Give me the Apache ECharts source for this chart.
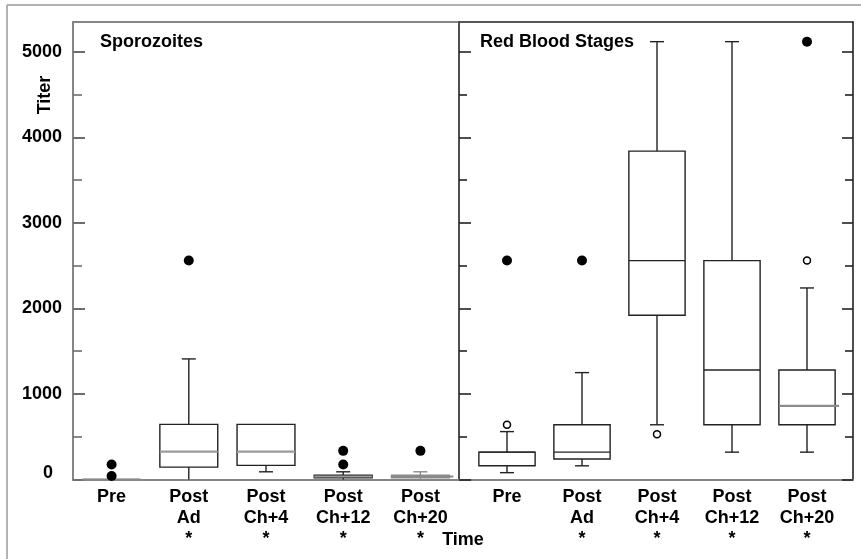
<!DOCTYPE html>
<html>
<head>
<meta charset="utf-8">
<title>Titer by time</title>
<script src="https://cdn.jsdelivr.net/npm/echarts@6/dist/echarts.min.js"></script>
<style>
  html, body { margin: 0; padding: 0; background: #fff; }
  #chart { width: 861px; height: 559px; }
</style>
</head>
<body>
<div id="chart"></div>
<script>
var categories = ['Pre', 'Post\nAd\n*', 'Post\nCh+4\n*', 'Post\nCh+12\n*', 'Post\nCh+20\n*'];

// each box: [min, Q1, median, Q3, max]
var sporozoiteBoxes = [
  [0, 0, 0, 0, 0],
  [0, 145, 325, 645, 1410],
  [90, 165, 325, 645, 645],
  [0, 20, 35, 50, 90],
  [0, 20, 35, 50, 90]
];
// [category index, titer]
var sporozoiteOutliers = [[0, 175], [0, 40], [1, 2560], [3, 335], [3, 175], [4, 335]];

var bloodBoxes = [
  [80, 160, 320, 320, 560],
  [160, 240, 320, 640, 1250],
  [640, 1920, 2560, 3840, 5120],
  [320, 640, 1280, 2560, 5120],
  [320, 640, 860, 1280, 2240]
];
var bloodOutliers = [[0, 2560], [1, 2560], [4, 5120]];
var bloodOpenOutliers = [[0, 640], [2, 530], [4, 2560]];

var yTicks = [0, 1000, 2000, 3000, 4000, 5000];
var yMinorTicks = [500, 1500, 2500, 3500, 4500];
var yMax = 5350;

// colours per box (left panel has grey boxes / medians)
var sporoBoxColor = ['#8a8a8a', '#222', '#222', '#222', '#8a8a8a'];
var sporoMedianColor = ['#8a8a8a', '#9a9a9a', '#9a9a9a', '#9a9a9a', '#8a8a8a'];
var bloodBoxColor = ['#222', '#222', '#222', '#222', '#222'];
var bloodMedianColor = ['#222', '#222', '#222', '#222', '#8c8c8c'];

var FONT = '"Liberation Sans", Arial, Helvetica, sans-serif';
var FS = 18;
var GREY = '#858585';
var DARK = '#222';

function boxRenderer(boxColor, medianColor) {
  return function (params, api) {
    var i = api.value(0);
    var band = api.size([1, 0])[0];
    var hw = band * 0.375;
    var cap = 7;
    var pMin = api.coord([i, api.value(1)]);
    var pQ1 = api.coord([i, api.value(2)]);
    var pMed = api.coord([i, api.value(3)]);
    var pQ3 = api.coord([i, api.value(4)]);
    var pMax = api.coord([i, api.value(5)]);
    var cx = pQ1[0];
    var st = { stroke: boxColor[i], lineWidth: 1.4 };
    var kids = [];
    if (pMax[1] < pQ3[1] - 0.5) {
      kids.push({ type: 'line', shape: { x1: cx, y1: pQ3[1], x2: cx, y2: pMax[1] }, style: st });
      kids.push({ type: 'line', shape: { x1: cx - cap, y1: pMax[1], x2: cx + cap, y2: pMax[1] }, style: st });
    }
    if (pMin[1] > pQ1[1] + 0.5) {
      kids.push({ type: 'line', shape: { x1: cx, y1: pQ1[1], x2: cx, y2: pMin[1] }, style: st });
      if (api.value(1) > 0) {
        kids.push({ type: 'line', shape: { x1: cx - cap, y1: pMin[1], x2: cx + cap, y2: pMin[1] }, style: st });
      }
    }
    kids.push({
      type: 'rect',
      shape: { x: cx - hw, y: pQ3[1], width: hw * 2, height: pQ1[1] - pQ3[1] },
      style: { stroke: boxColor[i], lineWidth: 1.4, fill: '#fff' }
    });
    var grey = medianColor[i] !== DARK;
    kids.push({
      type: 'line',
      shape: { x1: cx - hw, y1: pMed[1], x2: cx + hw + (i === 4 && grey ? 4 : 0), y2: pMed[1] },
      style: { stroke: medianColor[i], lineWidth: grey ? 2.2 : 1.4 }
    });
    return { type: 'group', children: kids };
  };
}

function boxData(boxes) {
  return boxes.map(function (b, i) { return [i].concat(b); });
}

function tickAxis(gridIndex, position, ticks, length, color, showLine) {
  return {
    type: 'value', gridIndex: gridIndex, position: position, min: 0, max: yMax,
    interval: 500,
    axisLine: { show: showLine, onZero: false, lineStyle: { color: color, width: 1.6 } },
    axisTick: { show: true, inside: true, length: length, customValues: ticks, lineStyle: { color: color, width: 1.6 } },
    axisLabel: { show: false },
    splitLine: { show: false }
  };
}

function lineAxis(gridIndex, position, color, width) {
  return {
    type: 'value', gridIndex: gridIndex, position: position, min: 0, max: 1,
    axisLine: { show: true, onZero: false, lineStyle: { color: color, width: width } },
    axisTick: { show: false }, axisLabel: { show: false }, splitLine: { show: false }
  };
}

var catLabel = {
  interval: 0, margin: 7, fontSize: FS, fontWeight: 'bold', lineHeight: 21,
  color: '#000', fontFamily: FONT
};

var option = {
  animation: false,
  backgroundColor: '#fff',
  title: [
    { text: 'Sporozoites', left: 100, top: 33, padding: 0,
      textStyle: { fontSize: FS, fontWeight: 'bold', color: '#000', fontFamily: FONT } },
    { text: 'Red Blood Stages', left: 480, top: 33, padding: 0,
      textStyle: { fontSize: FS, fontWeight: 'bold', color: '#000', fontFamily: FONT } }
  ],
  grid: [
    { left: 73, top: 22, width: 386, height: 457.5 },
    { left: 459, top: 22, width: 394, height: 457.5 },
    { left: 469.5, top: 22, width: 375, height: 457.5 }
  ],
  xAxis: [
    { type: 'category', gridIndex: 0, position: 'bottom', data: categories,
      axisLine: { show: true, onZero: false, lineStyle: { color: GREY, width: 2.2 } },
      axisTick: { show: false }, axisLabel: catLabel, splitLine: { show: false } },
    lineAxis(0, 'top', GREY, 1.8),
    lineAxis(1, 'bottom', GREY, 2.2),
    lineAxis(1, 'top', DARK, 1.6),
    { type: 'category', gridIndex: 2, position: 'bottom', data: categories,
      axisLine: { show: false }, axisTick: { show: false }, axisLabel: catLabel, splitLine: { show: false } }
  ],
  yAxis: [
    { type: 'value', gridIndex: 0, position: 'left', min: 0, max: yMax, interval: 1000,
      axisLine: { show: true, onZero: false, lineStyle: { color: GREY, width: 2 } },
      axisTick: { show: true, inside: true, length: 12, customValues: yTicks,
        lineStyle: { color: '#6e6e6e', width: 2 } },
      axisLabel: {
        customValues: yTicks, margin: 11,
        fontSize: FS, fontWeight: 'bold', color: '#000', fontFamily: FONT,
        formatter: function (v) { return v === 0 ? '{z|0}' : String(v); },
        rich: { z: { fontSize: FS, fontWeight: 'bold', color: '#000', fontFamily: FONT, padding: [0, 9, 12, 0] } }
      },
      splitLine: { show: false } },
    tickAxis(0, 'left', yMinorTicks, 9, '#6e6e6e', false),
    tickAxis(1, 'left', yTicks, 12, DARK, true),
    tickAxis(1, 'left', yMinorTicks, 8, DARK, false),
    tickAxis(1, 'right', yTicks, 11, DARK, true),
    tickAxis(1, 'right', yMinorTicks, 8, DARK, false),
    { type: 'value', gridIndex: 2, min: 0, max: yMax, show: false }
  ],
  graphic: [
    { type: 'line', shape: { x1: 7, y1: 5, x2: 861, y2: 5 }, style: { stroke: '#9a9a9a', lineWidth: 1.5 } },
    { type: 'line', shape: { x1: 7, y1: 5, x2: 7, y2: 559 }, style: { stroke: '#9a9a9a', lineWidth: 1.5 } },
    { type: 'text', x: 45, y: 95, rotation: Math.PI / 2,
      style: { text: 'Titer', font: 'bold ' + FS + 'px ' + FONT, fill: '#000',
        align: 'center', verticalAlign: 'middle', textAlign: 'center', textVerticalAlign: 'middle' } },
    { type: 'text', x: 463, y: 540,
      style: { text: 'Time', font: 'bold ' + FS + 'px ' + FONT, fill: '#000',
        align: 'center', verticalAlign: 'middle', textAlign: 'center', textVerticalAlign: 'middle' } }
  ],
  series: [
    { type: 'custom', name: 'Sporozoites', xAxisIndex: 0, yAxisIndex: 0,
      renderItem: boxRenderer(sporoBoxColor, sporoMedianColor),
      encode: { x: 0, y: [1, 2, 3, 4, 5] }, data: boxData(sporozoiteBoxes) },
    { type: 'scatter', xAxisIndex: 0, yAxisIndex: 0, symbolSize: 10,
      itemStyle: { color: '#000', opacity: 1 }, data: sporozoiteOutliers },
    { type: 'custom', name: 'Red Blood Stages', xAxisIndex: 4, yAxisIndex: 6,
      renderItem: boxRenderer(bloodBoxColor, bloodMedianColor),
      encode: { x: 0, y: [1, 2, 3, 4, 5] }, data: boxData(bloodBoxes) },
    { type: 'scatter', xAxisIndex: 4, yAxisIndex: 6, symbolSize: 10,
      itemStyle: { color: '#000', opacity: 1 }, data: bloodOutliers },
    { type: 'scatter', xAxisIndex: 4, yAxisIndex: 6, symbolSize: 7,
      itemStyle: { color: '#fff', borderColor: '#000', borderWidth: 1.5, opacity: 1 }, data: bloodOpenOutliers }
  ]
};

var myChart = echarts.init(document.getElementById('chart'), null, { renderer: 'canvas' });
myChart.setOption(option);
</script>
</body>
</html>
